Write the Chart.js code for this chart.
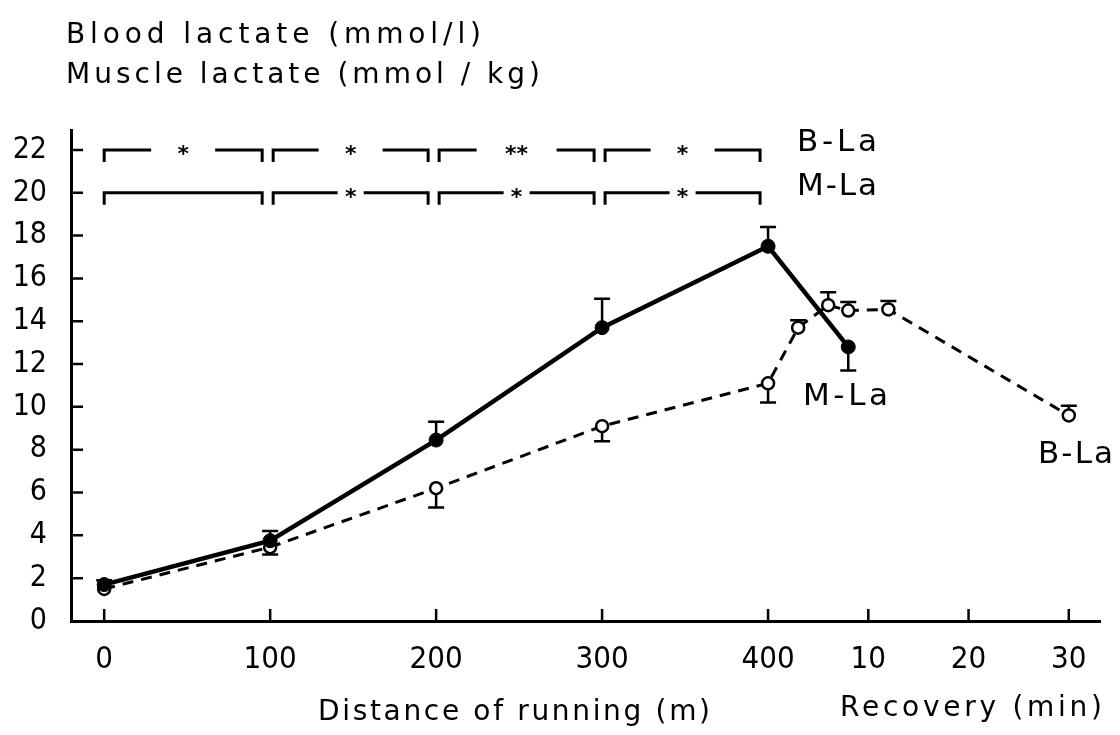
<!DOCTYPE html>
<html>
<head>
<meta charset="utf-8">
<title>Blood and muscle lactate</title>
<script src="https://cdn.jsdelivr.net/npm/chart.js@4.4.1/dist/chart.umd.min.js"></script>
<style>
  html, body { margin: 0; padding: 0; background: #fff; }
  #wrap { width: 1120px; height: 735px; position: relative; }
</style>
</head>
<body>
<div id="wrap"><canvas id="lactateChart"></canvas></div>
<script>
// ---- data ----
const distanceTicks = [0, 100, 200, 300, 400];   // m
const recoveryTicks = [10, 20, 30];              // min
const yTicks = [0, 2, 4, 6, 8, 10, 12, 14, 16, 18, 20, 22];

// muscle lactate (mmol/kg), filled circles, solid line
const mlaDistance = [0, 100, 200, 300, 400];
const mlaRun = [1.7, 3.75, 8.45, 13.7, 17.5];
const mlaRunSd = [0.2, 0.45, 0.85, 1.35, 0.9];      // + = bar up, - = bar down
const mlaRecMin = [8];
const mlaRec = [12.8];
const mlaRecSd = [-1.1];

// blood lactate (mmol/l), open circles, dashed line
const blaDistance = [0, 100, 200, 300, 400];
const blaRun = [1.5, 3.45, 6.2, 9.1, 11.1];
const blaRunSd = [0, -0.35, -0.9, -0.7, -0.9];
const blaRecMin = [3, 6, 8, 12, 30];
const blaRec = [13.7, 14.75, 14.5, 14.55, 9.6];
const blaRecSd = [0.35, 0.6, 0.4, 0.4, 0.45];

// significance between consecutive distances
const starsBla = ['*', '*', '**', '*'];
const starsMla = ['', '*', '*', '*'];

// recovery minutes share the x axis after 400 m
const RUN_END = 400;
const UNITS_PER_MIN = 6.04;
const recToX = m => RUN_END + m * UNITS_PER_MIN;

const xTickValues = distanceTicks.concat(recoveryTicks.map(recToX));
const xTickLabels = distanceTicks.concat(recoveryTicks).map(String);

function points(dist, run, recMin, rec) {
    const pts = dist.map((d, i) => ({ x: d, y: run[i] }));
    return pts.concat(recMin.map((m, i) => ({ x: recToX(m), y: rec[i] })));
}

const FONT = 'DejaVu Sans';
const TICK_FONT = '"DejaVu Sans Condensed", "Liberation Sans Narrow", "DejaVu Sans"';

// text stretched to the width it has in the scan
function spacedText(ctx, str, left, midY, width, size) {
    ctx.save();
    ctx.font = size + 'px "' + FONT + '"';
    ctx.letterSpacing = '0px';
    const w = ctx.measureText(str).width;
    ctx.letterSpacing = ((width - w) / Math.max(1, str.length - 1)) + 'px';
    ctx.fillStyle = '#000';
    ctx.textAlign = 'left';
    ctx.textBaseline = 'middle';
    ctx.fillText(str, left, midY);
    ctx.restore();
}

function drawStars(ctx, str, cx, cy) {
    ctx.save();
    ctx.font = 'bold 22px "' + FONT + '"';
    ctx.textAlign = 'center';
    ctx.textBaseline = 'alphabetic';
    const m = ctx.measureText(str);
    const base = cy + (m.actualBoundingBoxAscent - m.actualBoundingBoxDescent) / 2;
    ctx.fillStyle = '#000';
    ctx.fillText(str, cx, base);
    ctx.restore();
}

const overlay = {
    id: 'overlay',
    beforeDatasetsDraw(chart) {
        // one-sided error bars
        const ctx = chart.ctx;
        const ys = chart.scales.y;
        ctx.save();
        ctx.strokeStyle = '#000';
        ctx.lineWidth = 2.5;
        chart.data.datasets.forEach((ds, di) => {
            const meta = chart.getDatasetMeta(di);
            ds.errors.forEach((e, i) => {
                if (!e) return;
                const p = meta.data[i];
                const yEnd = ys.getPixelForValue(ds.data[i].y + e);
                ctx.beginPath();
                ctx.moveTo(p.x, p.y);
                ctx.lineTo(p.x, yEnd);
                ctx.moveTo(p.x - 8, yEnd);
                ctx.lineTo(p.x + 8, yEnd);
                ctx.stroke();
            });
        });
        ctx.restore();
    },
    afterDraw(chart) {
        const ctx = chart.ctx;
        const xs = chart.scales.x, ys = chart.scales.y;
        const area = chart.chartArea;
        ctx.save();
        ctx.strokeStyle = '#000';
        ctx.lineWidth = 2.5;

        // inward tick marks
        ctx.beginPath();
        xTickValues.forEach(v => {
            const x = xs.getPixelForValue(v);
            ctx.moveTo(x, area.bottom);
            ctx.lineTo(x, area.bottom - 12);
        });
        yTicks.forEach(v => {
            if (v === 0) return;
            const y = ys.getPixelForValue(v);
            ctx.moveTo(area.left, y);
            ctx.lineTo(area.left + 12, y);
        });
        ctx.stroke();

        // significance brackets
        const rows = [
            { level: 22, stars: starsBla, gap: 32 },
            { level: 20, stars: starsMla, gap: 13 }
        ];
        ctx.lineWidth = 3;
        rows.forEach(row => {
            const y = ys.getPixelForValue(row.level);
            row.stars.forEach((s, i) => {
                const x1 = xs.getPixelForValue(distanceTicks[i]) + (i === 0 ? 0 : 3);
                const x2 = xs.getPixelForValue(distanceTicks[i + 1]) - 8;
                const mid = (x1 + x2) / 2;
                const half = s ? row.gap + (s.length - 1) * 8 : 0;
                ctx.beginPath();
                ctx.moveTo(x1, y + 12);
                ctx.lineTo(x1, y);
                ctx.lineTo(mid - half, y);
                ctx.moveTo(mid + half, y);
                ctx.lineTo(x2, y);
                ctx.lineTo(x2, y + 12);
                ctx.stroke();
                if (s) drawStars(ctx, s, mid, y);
            });
        });
        ctx.restore();

        // labels
        spacedText(ctx, 'Blood lactate (mmol/l)', 66, 36, 415, 28);
        spacedText(ctx, 'Muscle lactate (mmol / kg)', 66, 76, 474, 28);
        spacedText(ctx, 'B-La', 797, 143, 80, 31);
        spacedText(ctx, 'M-La', 797, 187, 80, 31);
        spacedText(ctx, 'M-La', 803, 397, 85, 31);
        spacedText(ctx, 'B-La', 1038, 455, 75, 31);
        spacedText(ctx, 'Distance of running (m)', 318, 713, 392, 28);
        spacedText(ctx, 'Recovery (min)', 840, 709, 262, 28);
    }
};

const ctx = document.getElementById('lactateChart').getContext('2d');
new Chart(ctx, {
    type: 'line',
    data: {
        datasets: [
            {
                label: 'M-La',
                data: points(mlaDistance, mlaRun, mlaRecMin, mlaRec),
                errors: mlaRunSd.concat(mlaRecSd),
                borderColor: '#000',
                borderWidth: 4.5,
                pointRadius: 7,
                pointBackgroundColor: '#000',
                pointBorderColor: '#000',
                pointBorderWidth: 1,
                tension: 0,
                clip: false,
                order: 1
            },
            {
                label: 'B-La',
                data: points(blaDistance, blaRun, blaRecMin, blaRec),
                errors: blaRunSd.concat(blaRecSd),
                borderColor: '#000',
                borderWidth: 3,
                borderDash: [11, 8],
                pointRadius: 6,
                pointBackgroundColor: '#fff',
                pointBorderColor: '#000',
                pointBorderWidth: 2.5,
                tension: 0,
                clip: false,
                order: 2
            }
        ]
    },
    options: {
        responsive: true,
        maintainAspectRatio: false,
        animation: false,
        events: [],
        layout: { autoPadding: false, padding: { top: 130, right: 20, bottom: 0, left: 0 } },
        plugins: {
            legend: { display: false },
            tooltip: { enabled: false }
        },
        scales: {
            x: {
                type: 'linear',
                min: -20,
                max: 600,
                grid: { display: false, drawTicks: false },
                border: { display: true, color: '#000', width: 3 },
                afterBuildTicks: s => { s.ticks = xTickValues.map(v => ({ value: v })); },
                afterFit: s => { s.height = 114; },
                ticks: {
                    autoSkip: false,
                    maxRotation: 0,
                    padding: 20,
                    color: '#000',
                    font: { family: TICK_FONT, size: 31 },
                    callback: v => {
                        const i = xTickValues.findIndex(t => Math.abs(t - v) < 0.01);
                        return i < 0 ? '' : xTickLabels[i];
                    }
                }
            },
            y: {
                min: 0,
                max: 22.93,
                grid: { display: false, drawTicks: false },
                border: { display: true, color: '#000', width: 3 },
                afterBuildTicks: s => { s.ticks = yTicks.map(v => ({ value: v })); },
                afterFit: s => { s.width = 71; },
                ticks: {
                    autoSkip: false,
                    padding: 24,
                    color: '#000',
                    font: { family: TICK_FONT, size: 30 }
                }
            }
        }
    },
    plugins: [overlay]
});
</script>
</body>
</html>
